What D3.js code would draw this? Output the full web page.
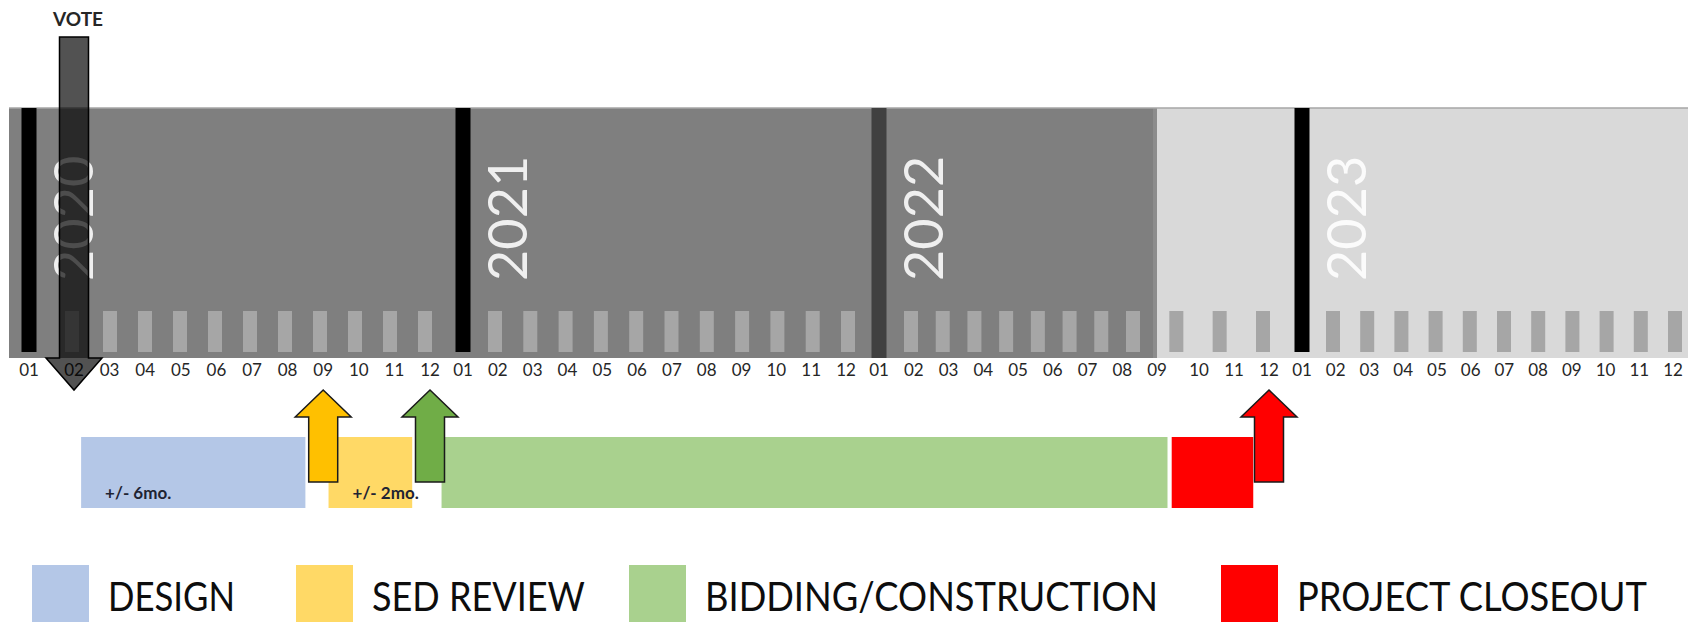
<!DOCTYPE html>
<html>
<head>
<meta charset="utf-8">
<script src="https://cdn.jsdelivr.net/npm/d3@7"></script>
<style>
body{margin:0;background:#fff;}
svg{display:block;}
</style>
</head>
<body>
<svg id="canvas"></svg>
<script>
// timeline: month index 0 = 01/2020 ... 47 = 12/2023
let years=[2020,2021,2022,2023];
let monthLabels=["01","02","03","04","05","06","07","08","09","10","11","12"];
let activeEnd=32; // 09/2022, end of the dark (active) period

let phases=["DESIGN","SED REVIEW","BIDDING/CONSTRUCTION","PROJECT CLOSEOUT"];
let phaseColors=["#b4c7e7","#ffd966","#a9d18e","#ff0000"];
let phaseStart=[1.2,8.15,11.35,32.35];
let phaseEnd=[7.5,10.5,32.25,34.55];
let phaseNotes=["+/- 6mo.","+/- 2mo.","",""];

let voteMonth=1;
let markerMonths=[8,11,35];
let markerColors=["#ffc000","#70ad47","#ff0000"];

let W=1688,H=622;
let svg=d3.select("#canvas").attr("width",W).attr("height",H);

// hand drawn spacing is uneven, so the month axis is piecewise
let x=d3.scaleLinear()
  .domain([0,1,11,12,23,24,32,33,35,36,47])
  .range([29,74,430,463,846,879,1157,1199,1269,1302,1673]);
let xt=d3.scaleLinear()
  .domain([1,2,11,13,23,25,32,35,37,47])
  .range([72,110,425,495,848,911,1133,1263,1333,1675]);

let months=[];
years.forEach((y,k)=>monthLabels.forEach((m,j)=>months.push({i:k*12+j,label:m,year:y})));

let bandTop=108,bandBot=358;

// bands
svg.append("rect").attr("x",x(0)-20).attr("y",bandTop).attr("width",x(activeEnd)-x(0)+20)
  .attr("height",bandBot-bandTop).attr("fill","#7f7f7f");
svg.append("rect").attr("x",x(activeEnd)).attr("y",bandTop).attr("width",W-x(activeEnd))
  .attr("height",bandBot-bandTop).attr("fill","#d9d9d9");
svg.append("rect").attr("x",x(activeEnd)-4).attr("y",bandTop).attr("width",4)
  .attr("height",bandBot-bandTop).attr("fill","#8c8c8c");
svg.append("line").attr("x1",x(0)-20).attr("x2",W).attr("y1",bandTop).attr("y2",bandTop)
  .attr("stroke","#a6a6a6").attr("stroke-width",1.5);

// month ticks
svg.append("g").selectAll("rect").data(months.filter(d=>d.i%12!=0)).enter().append("rect")
  .attr("x",d=>xt(d.i)-7).attr("y",311).attr("width",14).attr("height",41)
  .attr("fill","#a6a6a6");

// year bars + labels
svg.append("g").selectAll("rect").data(years).enter().append("rect")
  .attr("x",(d,k)=>x(k*12)-7.5).attr("y",bandTop).attr("width",15)
  .attr("height",(d,k)=>k==2?bandBot-bandTop:244)
  .attr("fill",(d,k)=>k==2?"#404040":"#000");
svg.append("g").selectAll("text").data(years).enter().append("text")
  .text(d=>d)
  .attr("transform",(d,k)=>`translate(${x(k*12)+64},281) rotate(-90)`)
  .style("font","400 54px Lato, 'Open Sans', sans-serif")
  .attr("fill","#fff").attr("fill-opacity",0.88);

// month labels
svg.append("g").selectAll("text").data(months).enter().append("text")
  .text(d=>d.label).attr("x",d=>x(d.i)).attr("y",376)
  .style("text-anchor","middle").style("font","17px Lato, sans-serif").attr("fill","#262626");

// vote arrow (down)
let vx=x(voteMonth);
let downArrow=d3.path();
downArrow.moveTo(vx-14.5,37);downArrow.lineTo(vx+14.5,37);downArrow.lineTo(vx+14.5,358);
downArrow.lineTo(vx+28,358);downArrow.lineTo(vx,390);downArrow.lineTo(vx-28,358);
downArrow.lineTo(vx-14.5,358);downArrow.closePath();
svg.append("path").attr("d",downArrow.toString()).attr("fill","#000").attr("fill-opacity",0.68)
  .attr("stroke","#000").attr("stroke-width",1.5);
svg.append("text").text("VOTE").attr("x",vx+4).attr("y",26).style("text-anchor","middle")
  .style("font","bold 19px Lato, sans-serif").attr("fill","#262626");

// phase bars
let barTop=437,barH=71;
svg.append("g").selectAll("rect").data(phases).enter().append("rect")
  .attr("x",(d,k)=>x(phaseStart[k])).attr("y",barTop)
  .attr("width",(d,k)=>x(phaseEnd[k])-x(phaseStart[k])).attr("height",barH)
  .attr("fill",(d,k)=>phaseColors[k]);
svg.append("g").selectAll("text").data(phaseNotes).enter().append("text")
  .text(d=>d).attr("x",(d,k)=>x(phaseStart[k])+24).attr("y",499)
  .style("font","bold 17px Lato, sans-serif").attr("fill","#1f2433");

// milestone arrows (up)
function upArrow(cx){
  let p=d3.path();
  p.moveTo(cx,390);p.lineTo(cx+28,417);p.lineTo(cx+14.5,417);p.lineTo(cx+14.5,482);
  p.lineTo(cx-14.5,482);p.lineTo(cx-14.5,417);p.lineTo(cx-28,417);p.closePath();
  return p.toString();
}
svg.append("g").selectAll("path").data(markerMonths).enter().append("path")
  .attr("d",d=>upArrow(x(d))).attr("fill",(d,k)=>markerColors[k])
  .attr("stroke","#1a1a1a").attr("stroke-width",1.5);

// legend (text is narrow in the original, squeeze it horizontally)
let legX=[32,296,629,1221],legW=[127,213,453,350];
let leg=svg.append("g");
leg.selectAll("rect").data(phases).enter().append("rect")
  .attr("x",(d,k)=>legX[k]).attr("y",565).attr("width",57).attr("height",57)
  .attr("fill",(d,k)=>phaseColors[k]);
leg.selectAll("text").data(phases).enter().append("text")
  .text(d=>d)
  .style("font","41px Lato, sans-serif").attr("fill","#0d0d0d")
  .attr("transform",function(d,k){
    let len=this.getComputedTextLength();
    return `translate(${legX[k]+76},611) scale(${legW[k]/len},1)`;
  });
</script>
</body>
</html>
